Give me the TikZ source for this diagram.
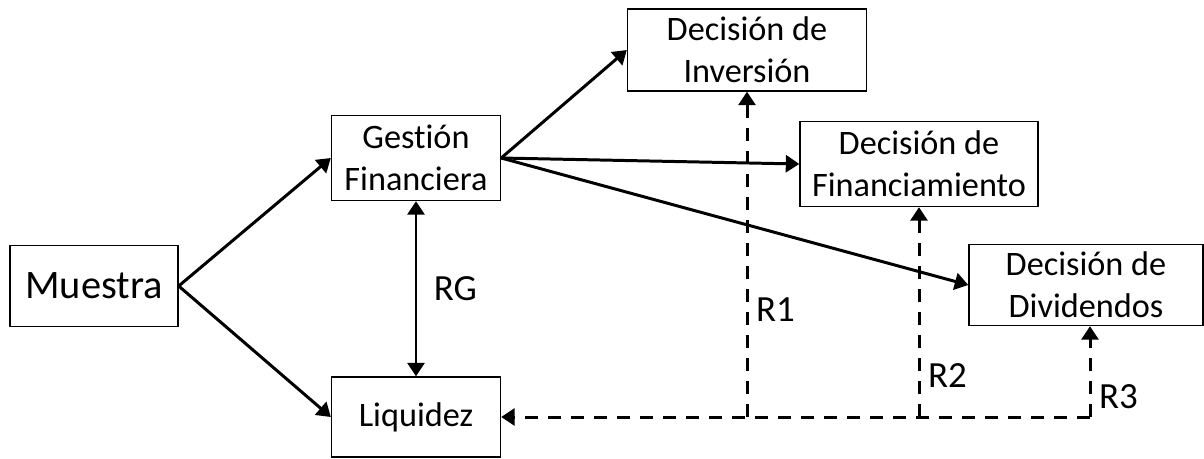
\documentclass[tikz,border=0pt]{standalone}
\usepackage{fontspec}
\setmainfont{Carlito}[Ligatures=NoCommon]
\usetikzlibrary{arrows.meta,positioning}

\begin{document}
\begin{tikzpicture}[x=0.02cm,y=-0.02cm,
    box/.style={draw,line width=0.8pt,align=center,inner sep=0pt,font=\fontsize{19.5}{24}\selectfont},
    link/.style={line width=1.7pt,-{Triangle[length=0.27cm,width=0.34cm]}},
    back/.style={line width=1.7pt,dash pattern=on 0.27cm off 0.19cm,-{Triangle[length=0.27cm,width=0.34cm]}},
    lbl/.style={font=\fontsize{21}{25}\selectfont}]
    \useasboundingbox (0,0) rectangle (1204,458);

    \node[box,minimum width=3.36cm,minimum height=1.62cm,font=\fontsize{23}{27}\selectfont] (M) at (94,286) {Muestra};
    \node[box,minimum width=3.38cm,minimum height=1.7cm] (GF) at (416,158) {Gestión\\Financiera};
    \node[box,minimum width=3.38cm,minimum height=1.6cm] (L) at (416,417) {Liquidez};
    \node[box,minimum width=4.78cm,minimum height=1.64cm] (DI) at (747,50) {Decisión de\\Inversión};
    \node[box,minimum width=4.76cm,minimum height=1.7cm] (DF) at (919,164) {Decisión de\\Financiamiento};
    \node[box,minimum width=4.68cm,minimum height=1.62cm] (DD) at (1086,285) {Decisión de\\Dividendos};

    % flujo principal
    \draw[link] (M.east) -- (GF.west);
    \draw[link] (M.east) -- (L.west);
    \draw[link] (GF.east) -- (DI.west);
    \draw[link] (GF.east) -- (DF.west);
    \draw[link] (GF.east) -- (DD.west);
    \draw[link,{Triangle[length=0.27cm,width=0.34cm]}-{Triangle[length=0.27cm,width=0.34cm]}] (GF) -- (L) node[midway,right=6pt,lbl] (RG) {RG};

    % retroalimentacion
    \coordinate (c1) at (DI.south |- L.east);
    \coordinate (c2) at (DF.south |- L.east);
    \coordinate (c3) at (1090,417);
    \draw[back] (c3) -- (L.east);
    \draw[back] (c1) -- (DI.south) node[pos=0.33,right=1pt,lbl] (R1) {R1};
    \draw[back] (c2) -- (DF.south) node[pos=0.2,right=1pt,lbl] (R2) {R2};
    \draw[back] (c3) -- (c3 |- DD.south) node[pos=0.22,right=1pt,lbl] (R3) {R3};
\end{tikzpicture}
\end{document}
